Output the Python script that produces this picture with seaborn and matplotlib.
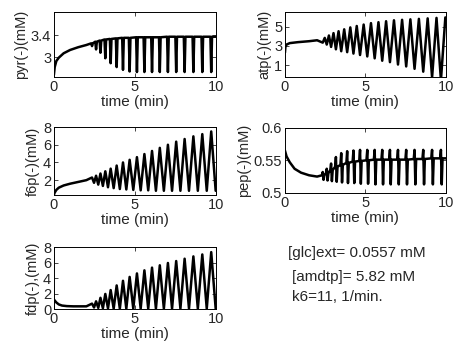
import numpy as np
import pandas as pd
import matplotlib
matplotlib.use("Agg")
import matplotlib.pyplot as plt
import seaborn as sns

# oscillation cycle times (min), shared by all panels
t_cycle = [2.35, 2.6, 2.87, 3.17, 3.5, 3.87, 4.26, 4.67, 5.12, 5.58,
           6.05, 6.53, 7.03, 7.54, 8.06, 8.6, 9.15, 9.7]

# pyr
pyr_pre_t = [0, 0.05, 0.15, 0.3, 0.6, 1.0, 1.5, 2.0]
pyr_pre = [2.68, 2.82, 2.93, 2.99, 3.07, 3.13, 3.18, 3.22]
pyr_hi = [3.25, 3.28, 3.3, 3.32, 3.33, 3.34, 3.35, 3.35, 3.36, 3.36,
          3.36, 3.36, 3.37, 3.37, 3.37, 3.37, 3.37, 3.37]
pyr_lo = [3.2, 3.14, 3.08, 2.98, 2.89, 2.82, 2.77, 2.74, 2.73, 2.73,
          2.73, 2.73, 2.73, 2.73, 2.73, 2.73, 2.73, 2.73]

# atp
atp_pre_t = [0, 0.03, 0.1, 0.3, 0.8, 1.5, 2.0]
atp_pre = [2.3, 2.9, 3.15, 3.3, 3.4, 3.5, 3.6]
atp_hi = [3.85, 4.1, 4.35, 4.55, 4.75, 4.95, 5.1, 5.25, 5.4, 5.5,
          5.6, 5.7, 5.75, 5.8, 5.85, 5.9, 5.95, 6.0]
atp_lo = [3.35, 3.15, 2.9, 2.65, 2.45, 2.35, 2.2, 2.05, 1.9, 1.7,
          1.45, 1.3, 1.05, 0.85, 0.6, 0.3, -0.3, -0.6]

# f6p
f6p_pre_t = [0, 0.05, 0.15, 0.3, 0.6, 1.0, 1.5, 2.0]
f6p_pre = [0.35, 0.6, 0.9, 1.15, 1.4, 1.6, 1.8, 2.0]
f6p_hi = [2.3, 2.5, 2.75, 3.0, 3.3, 3.65, 4.0, 4.3, 4.6, 4.95,
          5.3, 5.65, 6.0, 6.35, 6.65, 6.95, 7.2, 7.5]
f6p_lo = [1.7, 1.5, 1.35, 1.2, 1.1, 1.0, 0.95, 0.9, 0.85, 0.85,
          0.8, 0.8, 0.8, 0.8, 0.8, 0.8, 0.8, 0.8]

# pep
pep_pre_t = [0, 0.1, 0.3, 0.6, 1.0, 1.5, 2.0]
pep_pre = [0.565, 0.556, 0.547, 0.537, 0.531, 0.527, 0.525]
pep_mid = [0.527, 0.53, 0.535, 0.54, 0.543, 0.546, 0.548, 0.549, 0.55, 0.551,
           0.551, 0.551, 0.551, 0.551, 0.552, 0.552, 0.553, 0.553]
pep_hi = [0.532, 0.537, 0.545, 0.555, 0.561, 0.564, 0.565, 0.566, 0.566, 0.566,
          0.566, 0.566, 0.566, 0.566, 0.566, 0.566, 0.566, 0.566]
pep_lo = [0.52, 0.519, 0.518, 0.517, 0.516, 0.515, 0.515, 0.514, 0.514, 0.513,
          0.513, 0.513, 0.513, 0.513, 0.513, 0.513, 0.513, 0.513]

# fdp
fdp_pre_t = [0, 0.05, 0.15, 0.3, 0.5, 0.8, 1.2, 2.0]
fdp_pre = [1.25, 1.1, 0.85, 0.6, 0.45, 0.38, 0.35, 0.35]
fdp_hi = [0.7, 1.0, 1.45, 1.95, 2.45, 3.05, 3.65, 4.15, 4.6, 5.0,
          5.35, 5.65, 5.95, 6.2, 6.5, 6.8, 7.05, 7.35]
fdp_lo = [0.2, 0.15, 0.1, 0.08, 0.05, 0.05, 0.05, 0.05, 0.05, 0.05,
          0.05, 0.05, 0.05, 0.05, 0.05, 0.05, 0.05, 0.05]

W = 0.05  # half width of a spike (min)


def build_wave(pre_t, pre_y, hi, lo, kind, mid=None):
    ts = list(pre_t)
    ys = list(pre_y)
    for i, tc in enumerate(t_cycle):
        tn = t_cycle[i + 1] if i + 1 < len(t_cycle) else tc + 0.55
        half = (tc + tn) / 2
        if kind == "dip":
            ts += [tc - W, tc, tc + W]
            ys += [hi[i], lo[i], hi[i]]
        elif kind == "peak":
            ts += [tc, half]
            ys += [hi[i], lo[i]]
        elif kind == "trough":
            ts += [tc, half]
            ys += [lo[i], hi[i]]
        elif kind == "spike":
            ts += [tc - W, tc, tc + W, tc + 2 * W]
            ys += [mid[i], hi[i], lo[i], mid[i]]
    if kind == "dip":
        ts.append(10.2)
        ys.append(hi[-1])
    elif kind == "spike":
        ts.append(10.2)
        ys.append(mid[-1])
    return pd.DataFrame({"t": ts, "v": ys})


sns.set_style("ticks")
plt.rcParams["font.family"] = ["Liberation Sans", "DejaVu Sans"]
plt.rcParams["font.size"] = 10.5

fig = plt.figure(figsize=(4.53, 3.5), dpi=100)

panels = [
    ([0.119, 0.780, 0.358, 0.186], build_wave(pyr_pre_t, pyr_pre, pyr_hi, pyr_lo, "dip"),
     "pyr(-)(mM)", (2.64, 3.82), [3, 3.4], ["3", "3.4"]),
    ([0.629, 0.780, 0.355, 0.186], build_wave(atp_pre_t, atp_pre, atp_hi, atp_lo, "trough"),
     "atp(-)(mM)", (-0.26, 6.58), [1, 3, 5], ["1", "3", "5"]),
    ([0.119, 0.443, 0.358, 0.194], build_wave(f6p_pre_t, f6p_pre, f6p_hi, f6p_lo, "peak"),
     "f6p(-)(mM)", (0.33, 8.0), [2, 4, 6, 8], ["2", "4", "6", "8"]),
    ([0.629, 0.449, 0.355, 0.186], build_wave(pep_pre_t, pep_pre, pep_hi, pep_lo, "spike", pep_mid),
     "pep(-)(mM)", (0.5, 0.6), [0.5, 0.55, 0.6], ["0.5", "0.55", "0.6"]),
    ([0.119, 0.117, 0.358, 0.177], build_wave(fdp_pre_t, fdp_pre, fdp_hi, fdp_lo, "peak"),
     "fdp(-),(mM)", (0, 8), [0, 2, 4, 6, 8], ["0", "2", "4", "6", "8"]),
]

for rect, df, ylab, ylim, yt, ytl in panels:
    ax = fig.add_axes(rect)
    sns.lineplot(data=df, x="t", y="v", ax=ax, color="black", linewidth=1.8,
                 estimator=None, sort=False)
    ax.set_xlim(0, 10)
    ax.set_ylim(*ylim)
    ax.set_xticks([0, 5, 10])
    ax.set_xticklabels(["0", "5", "10"])
    ax.set_yticks(yt)
    ax.set_yticklabels(ytl)
    ax.tick_params(direction="in", top=True, right=True, length=3, width=0.6,
                   pad=2, labelsize=10.5)
    for s in ax.spines.values():
        s.set_linewidth(0.7)
        s.set_color("black")
    ax.set_xlabel("time (min)", fontsize=11, labelpad=1)
    ax.set_ylabel(ylab, fontsize=10.5, labelpad=2)

fig.text(0.636, 0.277, "[glc]ext= 0.0557 mM", fontsize=11, va="center", ha="left")
fig.text(0.645, 0.209, "[amdtp]= 5.82 mM", fontsize=11, va="center", ha="left")
fig.text(0.645, 0.151, "k6=11, 1/min.", fontsize=11, va="center", ha="left")

fig.savefig("out.png", dpi=100)
